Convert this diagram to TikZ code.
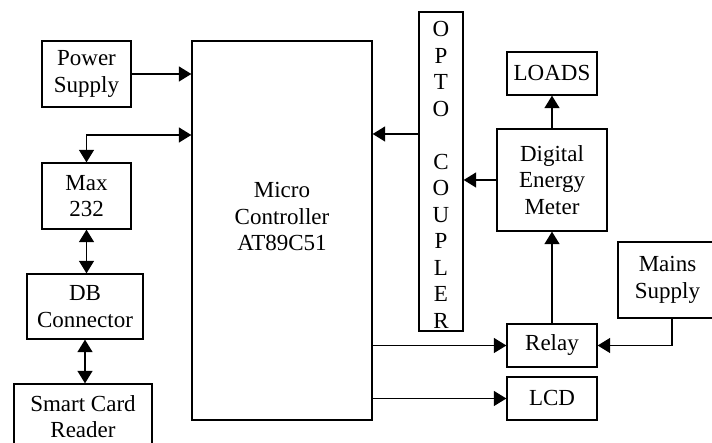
\documentclass[tikz,border=0pt]{standalone}
\usepackage{fontspec}
\setmainfont{Liberation Serif}
\usetikzlibrary{arrows.meta}

\begin{document}
\begin{tikzpicture}[x=1pt,y=1pt,>={Triangle[length=12.5pt,width=15pt]}]
 \tikzstyle{blocktext} = [align=center,inner sep=0pt,font=\fontsize{23}{26.5}\selectfont]
 \tikzstyle{blockbox} = [blocktext,draw,line width=1.3pt]
 \tikzstyle{link} = [line width=1.3pt]
 \useasboundingbox (0,0) rectangle (712,443);

% Left column
 \node[blockbox,minimum width=89,minimum height=66] (power) at (86.5,369) {Power\\Supply};
 \node[blockbox,minimum width=89,minimum height=66] (max) at (86.5,247) {Max\\232};
 \node[blockbox,minimum width=116,minimum height=65] (db) at (85,136.5) {DB\\Connector};
 \node[blockbox,minimum width=138,minimum height=65] (card) at (83,26.5) {Smart Card\\Reader};

% Controller
 \node[blockbox,minimum width=180,minimum height=379] (mc) at (282,212.5) {};
 \node[blocktext] (mclabel) at (282,226.2) {Micro\\Controller\\AT89C51};

% Can't write vertical text, so one letter per line
 \node[blockbox,minimum width=44,minimum height=319] (opto) at (441,271.5) {};
 \node[blocktext] (optolabel) at (441,268) {O\\P\\T\\O\\\mbox{}\\C\\O\\U\\P\\L\\E\\R};

% Right column
 \node[blockbox,minimum width=90,minimum height=43] (loads) at (552,369.5) {LOADS};
 \node[blockbox,minimum width=110,minimum height=102] (meter) at (552,263) {Digital\\Energy\\Meter};
 \node[blockbox,minimum width=90,minimum height=43] (relay) at (552,97.5) {Relay};
 \node[blockbox,minimum width=90,minimum height=43] (lcd) at (552,44.5) {LCD};
 \node[blockbox,minimum width=99,minimum height=76] (mains) at (667.5,163) {Mains\\Supply};

% Links
 \coordinate (mcin) at ([yshift=95.5]mc.west);
 \coordinate (optout) at ([yshift=37.5]opto.west);
 \draw[link,->] (power.east) -- (power.east -| mc.west);
 \draw[link,<->] (max.north) |- (mcin);
 \draw[link,<->] (max.south) -- (max.south |- db.north);
 \draw[link,<->] (db.south) -- (db.south |- card.north);
 \draw[link,->] (optout) -- (optout -| mc.east);
 \draw[link,->] (meter.west) -- (meter.west -| opto.east);
 \draw[link,->] (meter.north) -- (loads.south);
 \draw[link,->] (relay.north) -- (meter.south);
 \draw[link,->] (relay.west -| mc.east) -- (relay.west);
 \draw[link,->] (lcd.west -| mc.east) -- (lcd.west);
 \draw[link,->] ([xshift=4.5]mains.south) |- (relay.east);

\end{tikzpicture}
\end{document}
